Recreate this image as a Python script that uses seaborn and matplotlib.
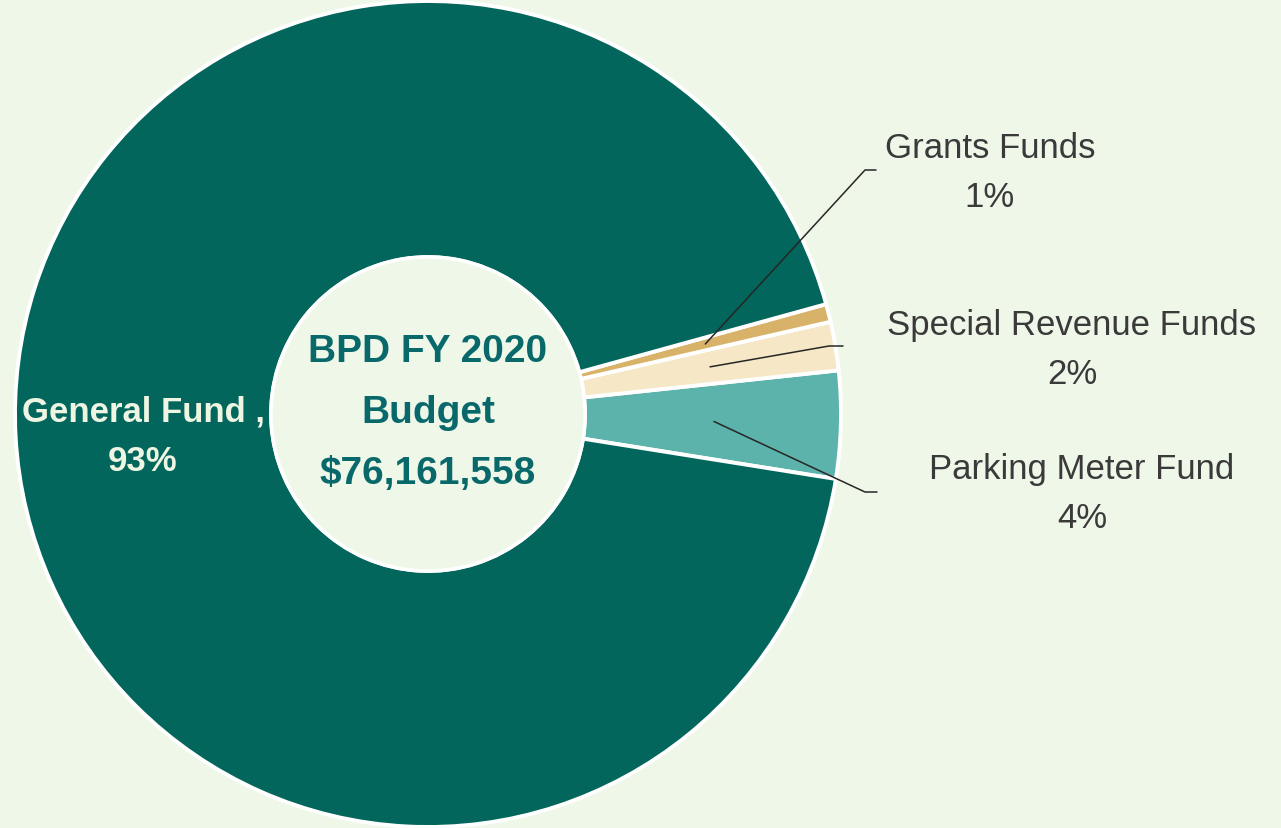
import numpy as np
import seaborn as sns
import matplotlib.pyplot as plt
from matplotlib import font_manager
from matplotlib.patches import Circle

#  ====== #
#  Data   #
# ======= #
funds = ['Parking Meter Fund', 'Special Revenue Funds', 'Grants Funds', 'General Fund']
shares = [4.2, 1.9, 0.7, 93.2]          # percent of total budget
share_labels = ['4%', '2%', '1%', '93%']
colors = ['#5cb3ab', '#f6e8c6', '#d9b26a', '#02665c']
center_lines = ['BPD FY 2020', 'Budget', '$76,161,558']

BG = '#eff7e9'
W, H = 1281, 829

sns.set_theme(style='white', rc={'figure.facecolor': BG, 'axes.facecolor': BG})
names = {f.name for f in font_manager.fontManager.ttflist}
narrow = 'Liberation Sans Narrow' if 'Liberation Sans Narrow' in names else 'Liberation Sans'
plt.rcParams['font.family'] = [narrow, 'DejaVu Sans']

fig = plt.figure(figsize=(W / 100, H / 100), dpi=100)
ax = fig.add_axes([0, 0, 1, 1])

cx, cy, R, r_in = 428, H - 415, 413, 157
wedges, _ = ax.pie(shares, colors=colors, startangle=-9.05, counterclock=True,
                   center=(cx, cy), radius=R, frame=True,
                   wedgeprops={'width': R - r_in, 'edgecolor': 'white', 'linewidth': 2.8})
ax.set_xlim(0, W)
ax.set_ylim(0, H)
ax.set_aspect('equal')
ax.axis('off')

ax.add_patch(Circle((cx, cy), r_in, facecolor=BG, edgecolor='white', lw=2.5, zorder=3))
ax.text(cx, cy + 2, '\n'.join(center_lines), ha='center', va='center', fontsize=28,
        fontweight='bold', color='#09696a', linespacing=1.9, zorder=4)

# general fund label inside the ring
ax.text(143, H - 437, 'General Fund ,\n' + share_labels[3], ha='center', va='center',
        fontsize=25, fontweight='bold', color='#eef5e2', linespacing=1.65, zorder=6)

# small slices: leader lines and outside labels
label_pos = {'Grants Funds': ((865, 171), (876, 171), (990, 173)),
             'Special Revenue Funds': ((829, 347), (843, 347), (1072, 350)),
             'Parking Meter Fund': ((865, 493), (877, 493), (1082, 494))}
for w, name, lab in zip(wedges[:3], funds[:3], share_labels[:3]):
    mid = np.deg2rad((w.theta1 + w.theta2) / 2)
    x0, y0 = cx + 286 * np.cos(mid), cy + 286 * np.sin(mid)
    (ex, ey), (hx, hy), (tx, ty) = label_pos[name]
    ax.plot([x0, ex, hx], [y0, H - ey, H - hy], color='#262626', lw=1.1, zorder=5)
    ax.text(tx, H - ty, name + '\n' + lab, ha='center', va='center', fontsize=25,
            color='#3a3a3a', linespacing=1.62)

fig.savefig('out.png', dpi=100, facecolor=BG)
